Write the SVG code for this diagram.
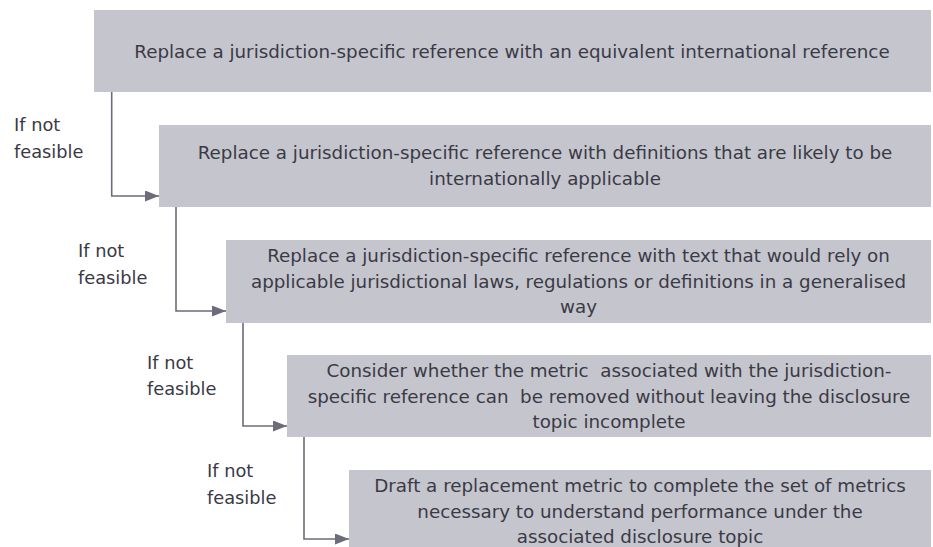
<svg xmlns="http://www.w3.org/2000/svg" width="933" height="547" viewBox="0 0 933 547">
<defs>
<style>
.box{fill:#c5c5ce;}
.t{font-family:"DejaVu Sans",sans-serif;font-size:18.3px;fill:#3a3a45;text-anchor:middle;}
.lbl{font-family:"DejaVu Sans",sans-serif;font-size:17.8px;fill:#3a3a45;}
.c{fill:none;stroke:#6c6c7a;stroke-width:1.6;}
</style>
<marker id="ah" markerWidth="14" markerHeight="11" refX="14" refY="5.5" orient="auto" markerUnits="userSpaceOnUse">
<path d="M0,0 L14,5.5 L0,11 Z" fill="#6c6c7a"/>
</marker>
</defs>
<rect width="933" height="547" fill="#ffffff"/>
<g id="connectors">
<path class="c" d="M111.7,92 V196 H159" marker-end="url(#ah)"/>
<path class="c" d="M176,207 V311 H226" marker-end="url(#ah)"/>
<path class="c" d="M243,323 V426 H287" marker-end="url(#ah)"/>
<path class="c" d="M304,437 V539 H349" marker-end="url(#ah)"/>
</g>
<g id="node1">
<rect class="box" x="94" y="10" width="837" height="82"/>
<text class="t" x="512" y="58">Replace a jurisdiction-specific reference with an equivalent international reference</text>
</g>
<g id="node2">
<rect class="box" x="159" y="125" width="772" height="82"/>
<text class="t" x="545" y="159">Replace a jurisdiction-specific reference with definitions that are likely to be</text>
<text class="t" x="545" y="185">internationally applicable</text>
</g>
<g id="node3">
<rect class="box" x="226" y="240" width="705" height="83"/>
<text class="t" x="578.5" y="262">Replace a jurisdiction-specific reference with text that would rely on</text>
<text class="t" x="578.5" y="288">applicable jurisdictional laws, regulations or definitions in a generalised</text>
<text class="t" x="578.5" y="313">way</text>
</g>
<g id="node4">
<rect class="box" x="287" y="355" width="644" height="82"/>
<text class="t" x="609" y="377" xml:space="preserve">Consider whether the metric  associated with the jurisdiction-</text>
<text class="t" x="609" y="403" xml:space="preserve">specific reference can  be removed without leaving the disclosure</text>
<text class="t" x="609" y="428">topic incomplete</text>
</g>
<g id="node5">
<rect class="box" x="349" y="470" width="582" height="82"/>
<text class="t" x="640" y="492">Draft a replacement metric to complete the set of metrics</text>
<text class="t" x="640" y="518">necessary to understand performance under the</text>
<text class="t" x="640" y="543">associated disclosure topic</text>
</g>
<g id="labels">
<text class="lbl" x="14" y="131">If not</text>
<text class="lbl" x="14" y="158">feasible</text>
<text class="lbl" x="78" y="257">If not</text>
<text class="lbl" x="78" y="284">feasible</text>
<text class="lbl" x="147" y="369">If not</text>
<text class="lbl" x="147" y="395">feasible</text>
<text class="lbl" x="207" y="477">If not</text>
<text class="lbl" x="207" y="504">feasible</text>
</g>
</svg>
